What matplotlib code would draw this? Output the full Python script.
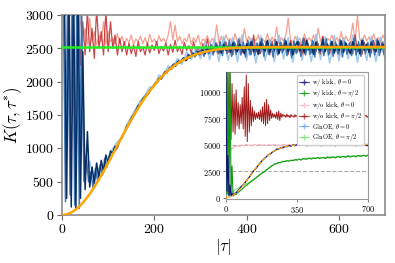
import numpy as np
import matplotlib
matplotlib.use('Agg')
import matplotlib.pyplot as plt
from matplotlib.lines import Line2D

plt.rcParams['font.family'] = 'serif'
plt.rcParams['font.serif'] = ['cmr10']
plt.rcParams['mathtext.fontset'] = 'cm'
plt.rcParams['axes.unicode_minus'] = False
plt.rcParams['axes.formatter.use_mathtext'] = True

# ---------------- main panel data ----------------
theory_tau_step = 10
theory_main = [0, 9, 37, 83, 145, 223, 315, 419, 533, 654,
               781, 911, 1043, 1174, 1302, 1426, 1545, 1658, 1762, 1860,
               1948, 2029, 2101, 2166, 2223, 2273, 2315, 2351, 2383, 2409,
               2431, 2449, 2464, 2476, 2486, 2493, 2499, 2504, 2508, 2511,
               2513, 2515, 2516, 2517, 2518, 2519, 2519, 2520, 2520, 2520] + [2520] * 21
plateau = 2525

blue_dark = [3400, 3500, 250, 3500, 120, 3500, 80, 3300, 250, 2450,
             380, 1250, 420, 720, 480, 780, 560, 820, 640, 900,
             780, 960, 920, 1030, 1010, 1120, 1180, 1230, 1330, 1370,
             1450, 1500, 1560, 1640, 1660, 1740, 1780, 1800, 1870, 1900,
             1960, 1980, 2050, 2040, 2120, 2150, 2170, 2200, 2250, 2230,
             2300, 2280, 2330, 2350, 2320, 2400, 2380, 2420, 2390, 2450,
             2430, 2480, 2420, 2500, 2460, 2520, 2450, 2540, 2480, 2430,
             2560, 2470, 2530, 2440, 2580, 2490, 2450, 2560, 2500, 2420,
             2570, 2480, 2600, 2450, 2530, 2410, 2590, 2500, 2460, 2620,
             2440, 2550, 2480, 2600, 2420, 2540, 2490, 2610, 2450, 2570,
             2400, 2530, 2600, 2460, 2550, 2430, 2620, 2480, 2540, 2410,
             2590, 2500, 2460, 2630, 2450, 2560, 2490, 2600, 2430, 2550,
             2470, 2610, 2440, 2580, 2500, 2420, 2600, 2480, 2550, 2420,
             2620, 2470, 2560, 2440, 2590, 2500, 2450, 2610, 2480, 2560,
             2500]
blue_mid = [3600, 200, 3600, 300, 3600, 150, 3500, 100, 3000, 500,
            900, 500, 650, 400, 700, 500, 750, 600, 850, 720,
            900, 880, 1000, 980, 1080, 1130, 1200, 1260, 1340, 1380,
            1480, 1510, 1600, 1620, 1710, 1730, 1810, 1820, 1900, 1920,
            1990, 1990, 2070, 2060, 2150, 2130, 2210, 2190, 2270, 2240,
            2320, 2290, 2360, 2310, 2410, 2350, 2440, 2370, 2470, 2400,
            2500, 2380, 2540, 2420, 2560, 2400, 2580, 2430, 2600, 2390,
            2590, 2420, 2620, 2380, 2600, 2410, 2640, 2400, 2590, 2370,
            2620,
            2400, 2610, 2390, 2580, 2420, 2650, 2380, 2600, 2410, 2570,
            2370, 2630, 2400, 2590, 2430, 2640, 2390, 2580, 2360, 2610,
            2420, 2600, 2380, 2650, 2400, 2570, 2410, 2620, 2370, 2600,
            2430, 2580, 2390, 2640, 2400, 2610, 2380, 2590, 2420, 2630,
            2370, 2600, 2410, 2580, 2390, 2650, 2400, 2600, 2380, 2620,
            2420, 2590, 2370, 2610, 2400, 2640, 2390, 2580, 2410]
blue_light = [3600, 3600, 3600, 300, 3600, 600, 800, 500, 700, 700,
              850, 1000, 1100, 1150, 1350, 1480, 1600, 1720, 1800, 1920,
              1930, 2100, 2080, 2240, 2200, 2350, 2260, 2450, 2330, 2500,
              2340, 2600, 2330, 2650, 2300, 2680, 2320, 2660, 2300, 2700,
              2330, 2650, 2280, 2690, 2320, 2640, 2300, 2700, 2340, 2660,
              2290, 2680, 2320, 2650, 2300, 2710, 2330, 2670, 2280, 2690,
              2310, 2660, 2340, 2700, 2290, 2650, 2320, 2680, 2300, 2670,
              2330]
red_dark = [3100, 2250, 2900, 2400, 3050, 2450, 2800, 2350, 3100, 2500,
            2750, 2400, 3050, 2450, 2900, 2500, 2700, 2400, 2650, 2450,
            2600, 2400, 2580, 2420, 2550, 2380, 2600, 2450, 2520, 2400,
            2580, 2430, 2550, 2470, 2600, 2420, 2530, 2460, 2580, 2400,
            2560, 2440, 2620, 2450, 2530, 2410, 2590, 2470, 2540, 2430,
            2600, 2450, 2520, 2400, 2570, 2480, 2640, 2420, 2550, 2460,
            2580, 2410, 2530, 2470, 2600, 2440, 2550, 2400, 2580, 2460,
            2620, 2430, 2540, 2480, 2590, 2410, 2700, 2450, 2560, 2420,
            2580, 2470, 2530, 2400, 2610, 2450, 2550, 2430, 2590, 2460,
            2540, 2410, 2620, 2480, 2560, 2440, 2590, 2400, 2650, 2460,
            2530, 2430, 2600, 2450, 2570, 2410, 2680, 2470, 2550, 2420,
            2590, 2460, 2540, 2400, 2610, 2480, 2560, 2440, 2600, 2420,
            2700, 2450, 2550, 2410, 2590, 2470, 2530, 2430, 2620, 2460,
            2570, 2440, 2600, 2450]
red_light = [3100, 2500, 3000, 2600, 2800, 2550, 2950, 2600, 2750, 2550,
             2700, 2600, 2900, 2550, 2750, 2600, 2650, 2560, 2720, 2580,
             2680, 2560, 2650, 2590, 2700, 2550, 2640, 2600, 2680, 2570,
             2660, 2550, 2710, 2590, 2640, 2560, 2690, 2600, 2650, 2580,
             2700, 2900, 2620, 2850, 2600, 2680, 2570, 2650, 2600, 2720,
             2560, 2660, 2590, 2700, 2550, 2640, 2610, 2690, 2570, 2650,
             2600, 2850, 2580, 2680, 2560, 2700, 2620, 2650, 2570, 2720,
             2590, 2660, 2550, 2800, 2600, 2680, 2570, 2650, 2610, 2700,
             2560, 2640, 2590, 2720, 2580, 2670, 2600, 2820, 2570, 2660,
             2610, 2700, 2950, 2630, 2580, 2680, 2600, 2650, 2560, 2720,
             2590, 2660, 2610, 2700, 2570, 2800, 2600, 2680, 2550, 2650,
             2620, 2700, 2580, 2660, 2600, 2750, 2570, 2680, 2610, 2650,
             2880, 2600, 2990, 2640, 2580, 2700, 2610, 2670, 2570, 2720,
             2600, 2660, 2590, 2700, 2620]

# ---------------- inset data ----------------
tau_inset = [0, 5, 10, 15, 20, 25, 30, 35] + list(range(40, 701, 10))
kick_theta0 = [11900, 600, 4000, 200, 1200, 150, 400, 200,
               350, 450, 700, 900, 1150, 1300, 1600, 1850, 2050, 2400,
               2600, 2800, 3100, 3300, 3550, 3700, 3900, 4050, 4150, 4350,
               4400, 4600, 4600, 4750, 4700, 4850, 4800, 4950, 4850, 5000,
               4900, 5050, 4950, 5100, 4950, 5050, 4900, 5100, 4950, 5000,
               5150, 4950, 5050, 4900, 5100, 5000, 4950, 5150, 4950, 5050,
               4900, 5100, 5000, 4950, 5100, 4950, 5050, 4950, 5100, 5000,
               4900, 5050, 5000, 4950, 5100, 4950, 4900]
kick_thetapi2 = [11900, 300, 11900, 200, 11900, 400, 3000, 150,
                 250, 300, 500, 650, 800, 1000, 1150, 1300, 1450, 1600,
                 1750, 1900, 2050, 2200, 2350, 2450, 2650, 2750, 2950, 3050,
                 3200, 3200, 3350, 3300, 3450, 3400, 3500, 3450, 3550, 3500,
                 3600, 3550, 3650, 3550, 3700, 3650, 3650, 3750, 3650, 3750,
                 3700, 3800, 3700, 3750, 3800, 3700, 3850, 3750, 3800, 3850,
                 3750, 3900, 3800, 3850, 3900, 3800, 3950, 3850, 3900, 3950,
                 3850, 4000, 3900, 3950, 4000, 3900, 4050]
nokick_theta0 = [9000, 4200, 4500, 4400, 4700, 4500, 4750, 4650,
                 4800, 4850, 4900, 4850, 5000, 4900, 5050, 4950, 5000, 4900,
                 5050, 4950, 5000, 5050, 4950, 5000, 4900, 5050, 4950, 5000,
                 5050, 4950, 5000, 4900, 5050, 5000, 4950, 5050, 4950, 5000,
                 5050, 4950, 5000, 5100, 4950, 5000, 5050, 4950, 5000, 5050,
                 4950, 5000, 5050, 4950, 5000, 5100, 4950, 5000, 5050, 4950,
                 5000, 5050, 4950, 5000, 5100, 4950, 5000, 5050, 4950, 5000,
                 5050, 4950, 5000, 5050, 4950, 5000, 5050]
ginoe_theta0 = [3000, 900, 300, 700, 200, 500, 300, 400,
                400, 500, 650, 950, 1100, 1350, 1550, 1800, 2100, 2350,
                2650, 2850, 3050, 3350, 3500, 3750, 3850, 4100, 4200, 4300,
                4450, 4550, 4650, 4700, 4800, 4800, 4900, 4900, 4950, 4950,
                5000, 4950, 5050, 5000, 4950, 5050, 5000, 4950, 5050, 5000,
                4950, 5050, 5000, 5050, 4950, 5000, 5050, 4950, 5000, 5050,
                5000, 4950, 5050, 5000, 4950, 5050, 5000, 4950, 5050, 5000,
                4950, 5050, 5000, 4950, 5050, 5000, 4950]
ginoe_thetapi2 = [6000, 1500, 600, 300, 500, 400, 600, 500,
                  700, 800, 900, 1000, 1100, 1200, 1300, 1400, 1550, 1650,
                  1800, 1950, 2100, 2250, 2400, 2500, 2650, 2800, 2900, 3050,
                  3150, 3250, 3300, 3350, 3400, 3450, 3450, 3500, 3500, 3550,
                  3550, 3600, 3600, 3650, 3650, 3700, 3700, 3700, 3750, 3750,
                  3750, 3750, 3800, 3800, 3800, 3800, 3850, 3850, 3850, 3850,
                  3850, 3900, 3900, 3900, 3900, 3900, 3950, 3950, 3950, 3950,
                  3950, 3950, 4000, 4000, 4000, 4000, 4000]
nokick_thetapi2 = [11900, 4000, 11900, 6000, 11900, 5500, 10800, 6200, 9800, 6000,
                   10200, 6800, 9000, 6500, 8800, 7000, 9500, 6500, 10500, 5800,
                   11600, 5300, 10800, 6200, 9200, 6800, 8600, 7200, 8200, 7400,
                   8000, 7500, 8100, 7400, 8300, 7200, 8600, 7000, 9000, 6800,
                   9300, 7000, 8800, 7300, 8300, 7500, 8000, 7600, 7900, 7500,
                   8100, 7400, 8200, 7300, 8000, 7600, 7900, 7700, 7800, 7600,
                   7900, 7650, 7800, 7550, 7850, 7700, 7750, 7600, 7850, 7650,
                   7800, 7600, 7900, 7650, 7750, 7700, 7850, 7600, 7800, 7700,
                   7750, 7650, 7850, 7600, 7800, 7700, 7900, 7650, 7750, 7600,
                   7800, 7700, 7850, 7650, 7750, 7600, 7900, 7700, 7800, 7650,
                   7750, 7600, 7850, 7700, 7800, 7650, 7900, 7600, 7750, 7700,
                   7850, 7650, 7800, 7600, 7750, 7700, 7900, 7650, 7800, 7700,
                   7750, 7600, 7850, 7650, 7800, 7700, 7900, 7600, 7750, 7650,
                   7800, 7700, 7850, 7600, 7750, 7650, 7900, 7700, 7800, 7600,
                   7700]
theory_inset = [0, 74, 290, 630, 1065, 1562, 2086, 2604, 3090, 3525,
                3896, 4203, 4445, 4630, 4765, 4862, 4927, 4971, 4999, 5016,
                5026, 5032, 5036, 5038, 5039, 5040, 5040, 5040, 5040, 5040,
                5040, 5040, 5040, 5040, 5040, 5040]
ref_levels = [2500, 5000]
legend_labels = [r'w/ kick, $\theta = 0$', r'w/ kick, $\theta = \pi/2$',
                 r'w/o kick, $\theta = 0$', r'w/o kick, $\theta = \pi/2$',
                 r'GinOE, $\theta = 0$', r'GinOE, $\theta = \pi/2$']

def grid(start, step, values):
    return start + step * np.arange(len(values))

# ---------------- figure ----------------
fig = plt.figure(figsize=(3.95, 2.63), dpi=100)
ax = fig.add_axes([0.157, 0.1825, 0.818, 0.7605])

ax.plot(grid(30, 5, red_light), red_light, color='#f4826a', lw=0.9, alpha=0.75, zorder=1)
ax.plot(grid(35, 5, red_dark), red_dark, color='#c0262a', lw=0.9, alpha=0.85, zorder=1.5)
ax.plot(grid(0, 10, blue_light), blue_light, color='#8cbde6', lw=1.1, alpha=0.8, zorder=2)
ax.plot(grid(2.5, 5, blue_mid), blue_mid, color='#2b6cb0', lw=1.1, alpha=0.9, zorder=2.5)
ax.plot(grid(0, 5, blue_dark), blue_dark, color='#0a2f66', lw=1.1, zorder=3)
ax.axhline(plateau, color='#22ee22', lw=1.8, zorder=4)
ax.plot(grid(0, theory_tau_step, theory_main), theory_main, color='#ffa500', lw=1.8, zorder=5)

ax.set_xlim(0, 700)
ax.set_ylim(0, 3000)
ax.set_xticks([0, 200, 400, 600])
ax.set_yticks(np.arange(0, 3001, 500))
ax.tick_params(labelsize=10, length=3.5, width=0.8, color='#666666', pad=2)
for s in ax.spines.values():
    s.set_color('#8a8a8a')
    s.set_linewidth(1.2)
ax.set_xlabel(r'$|\tau|$', fontsize=12, labelpad=1)
ax.set_ylabel(r'$K(\tau,\tau^{*})$', fontsize=12, labelpad=1)

# ---------------- inset ----------------
ins = fig.add_axes([0.572, 0.2445, 0.360, 0.482])
for lv in ref_levels:
    ins.axhline(lv, color='#aaaaaa', lw=0.8, ls='--', zorder=1)
ins.plot(grid(0, 5, nokick_thetapi2), nokick_thetapi2, color='#a01818', lw=0.7, zorder=2)
ins.plot(tau_inset, nokick_theta0, color='#ffb6c1', lw=0.8, zorder=2.5)
ins.plot(tau_inset, ginoe_thetapi2, color='#77e077', lw=0.8, zorder=3)
ins.plot(tau_inset, ginoe_theta0, color='#6f9ef0', lw=0.8, zorder=3.5)
ins.plot(tau_inset, kick_thetapi2, color='#119911', lw=0.8, zorder=4)
ins.plot(tau_inset, kick_theta0, color='#10107a', lw=0.8, zorder=4.5)
ins.plot(grid(0, 20, theory_inset), theory_inset, color='#ffa500', lw=0.9, ls='--', zorder=5)

ins.set_xlim(0, 700)
ins.set_ylim(-100, 11900)
ins.set_xticks([0, 350, 700])
ins.set_yticks([0, 2500, 5000, 7500, 10000])
ins.tick_params(labelsize=6, length=2, width=0.6, color='#666666', pad=1.5)
for s in ins.spines.values():
    s.set_color('#999999')
    s.set_linewidth(0.8)

legend_colors = ['#10107a', '#119911', '#ffb6c1', '#a01818', '#6f9ef0', '#77e077']
handles = [Line2D([0], [0], color=c, lw=0.8, marker='+', markersize=5, alpha=0.7)
           for c in legend_colors]
leg = ins.legend(handles, legend_labels, loc='upper right', fontsize=4.6,
                 labelspacing=0.05, handlelength=1.6, handletextpad=0.5,
                 handleheight=0.6, borderpad=0.3, framealpha=1,
                 edgecolor='#cccccc', bbox_to_anchor=(0.995, 1.0))
leg.set_zorder(10)

fig.savefig('out.png', dpi=100)
